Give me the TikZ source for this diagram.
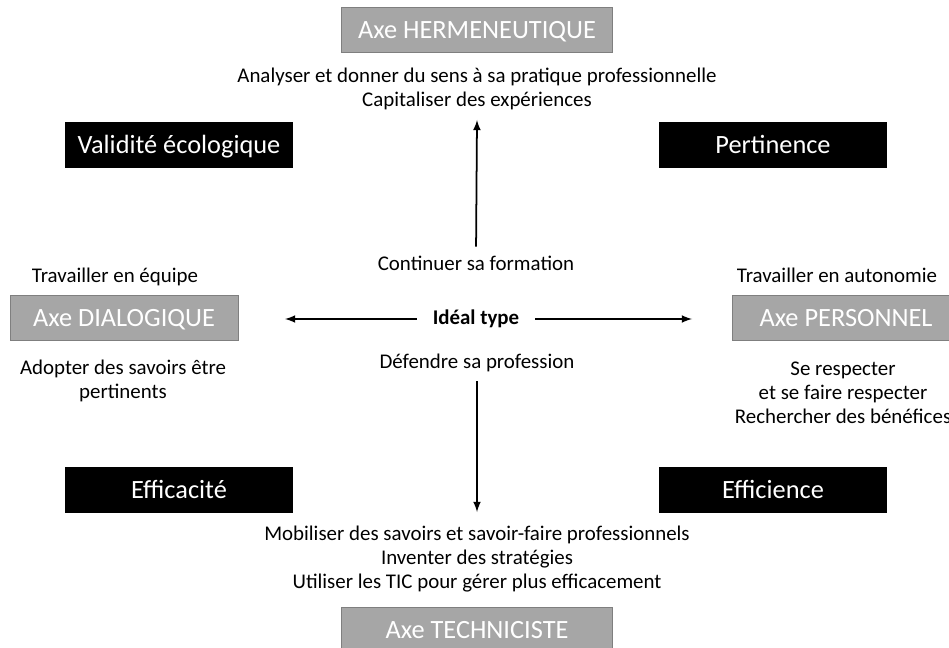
\documentclass[tikz,border=0pt]{standalone}
\usepackage{fontspec}
\setmainfont{Carlito}
\usetikzlibrary{positioning,calc}

\definecolor{axefill}{HTML}{A6A6A6}
\definecolor{axeline}{HTML}{7F7F7F}

\begin{document}
\begin{tikzpicture}[
    x=0.02cm, y=-0.02cm,
    axe/.style={draw=axeline, fill=axefill, text=white, minimum height=0.9cm, text height=12pt, text depth=2.2pt, font=\fontsize{15}{17}\selectfont},
    critere/.style={fill=black, text=white, minimum width=4.56cm, minimum height=0.92cm, text height=12pt, text depth=2.2pt, font=\fontsize{15}{17}\selectfont},
    label/.style={align=center, inner sep=1pt, font=\fontsize{11.9}{13.8}\selectfont},
    fleche/.style={-latex, line width=1pt}
]
\useasboundingbox (0,0) rectangle (949,648);

% Axes (gray boxes)
\node[axe, minimum width=5.42cm] (herm) at (477, 30) {Axe HERMENEUTIQUE};
\node[axe, minimum width=4.56cm] (dial) at (124, 318) {Axe DIALOGIQUE};
\node[axe, minimum width=4.56cm] (pers) at (846, 318) {Axe PERSONNEL};
\node[axe, minimum width=5.42cm] (tech) at (477, 630) {Axe TECHNICISTE};

% Criteria (black boxes)
\node[critere] (valid) at (179, 145) {Validité écologique};
\node[critere] (pert) at (773, 145) {Pertinence};
\node[critere] (effica) at (179, 490) {Efficacité};
\node[critere] (effici) at (773, 490) {Efficience};

% Centre
\node[label, font=\fontsize{11.9}{13.8}\selectfont\bfseries] (ideal) at (476, 319) {Idéal type};
\node[label] (cont) at (476, 263) {Continuer sa formation};
\node[label] (def) at (477, 363) {Défendre sa profession};

% Texts around the axes
\node[label] (hermtxt) at (477, 89) {Analyser et donner du sens à sa pratique professionnelle\\Capitaliser des expériences};
\node[label] (techtxt) at (477, 559) {Mobiliser des savoirs et savoir-faire professionnels\\Inventer des stratégies\\Utiliser les TIC pour gérer plus efficacement};
\node[label] (dialtop) at (115, 277) {Travailler en équipe};
\node[label] (dialtxt) at (123, 381) {Adopter des savoirs être\\pertinents};
\node[label] (perstop) at (837, 275) {Travailler en autonomie};
\node[label] (perstxt) at (843, 393) {Se respecter\\et se faire respecter\\Rechercher des bénéfices};

% Arrow tips
\coordinate (haut) at (477, 120);
\coordinate (bas) at (477, 512);
\coordinate (gauche) at (285, 319);
\coordinate (droite) at (692, 319);

% Arrows
\draw[fleche, shorten <=4pt] (cont.north) -- (haut);
\draw[fleche, shorten <=4pt] (def.south) -- (bas);
\draw[fleche, shorten <=8pt] (ideal.west) -- (gauche);
\draw[fleche, shorten <=8pt] (ideal.east) -- (droite);

\end{tikzpicture}
\end{document}
